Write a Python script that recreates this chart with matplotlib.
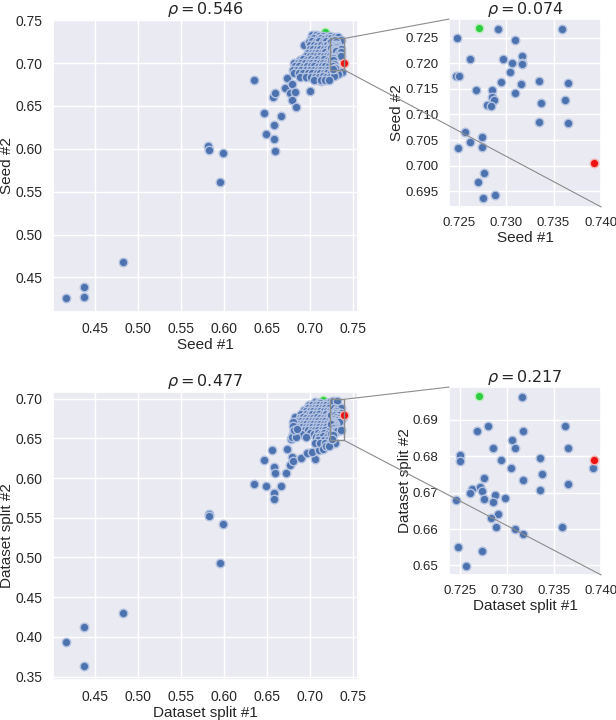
import numpy as np
import matplotlib
matplotlib.use("Agg")
import matplotlib.pyplot as plt
import seaborn as sns
from matplotlib.patches import Rectangle, ConnectionPatch
from matplotlib.ticker import MultipleLocator

sns.set_theme(style="darkgrid")
plt.rcParams['font.family'] = ['Liberation Sans', 'DejaVu Sans']

# --- Seed #1 vs Seed #2 -------------------------------------------------
# points outside the dense cluster
seed1_out = [0.4161, 0.4375, 0.4375, 0.4823, 0.5815, 0.5823, 0.5990, 0.5959,
             0.6348, 0.6465, 0.6484, 0.6582, 0.6582, 0.6589, 0.6660, 0.6570,
             0.6593, 0.6706, 0.6737, 0.6796, 0.6768, 0.6823, 0.6796, 0.6835,
             0.7002, 0.7126, 0.6936, 0.7177]
seed2_out = [0.4256, 0.4392, 0.4275, 0.4679, 0.6031, 0.5985, 0.5946, 0.5616,
             0.6805, 0.6412, 0.6171, 0.6276, 0.6109, 0.5973, 0.6377, 0.6606,
             0.6653, 0.6711, 0.6828, 0.6758, 0.6649, 0.6665, 0.6568, 0.6490,
             0.6676, 0.6789, 0.7205, 0.7364]
# dense cluster (outside the zoom box)
seed1_blob = [0.7030, 0.7070, 0.7110, 0.7150, 0.7205, 0.7235,
              0.7010, 0.7050, 0.7090, 0.7130, 0.7170, 0.7210, 0.7250, 0.7290, 0.7330,
              0.6985, 0.7030, 0.7070, 0.7110, 0.7150, 0.7190, 0.7230,
              0.7000, 0.7045, 0.7085, 0.7125, 0.7165, 0.7205, 0.7240,
              0.7000, 0.7040, 0.7080, 0.7120, 0.7160, 0.7200, 0.7235,
              0.6980, 0.7020, 0.7060, 0.7100, 0.7140, 0.7180, 0.7220,
              0.6960, 0.7000, 0.7040, 0.7080, 0.7120, 0.7160, 0.7200, 0.7238,
              0.6880, 0.6920, 0.6965, 0.7010, 0.7050, 0.7090, 0.7130, 0.7170, 0.7210,
              0.6820, 0.6860, 0.6900, 0.6945, 0.6990, 0.7030, 0.7075, 0.7115, 0.7155, 0.7195, 0.7235,
              0.6830, 0.6875, 0.6920, 0.6965, 0.7010, 0.7050, 0.7095, 0.7140, 0.7180, 0.7220,
              0.6800, 0.6850, 0.6900, 0.6950, 0.7000, 0.7045, 0.7090, 0.7135, 0.7175, 0.7215,
              0.7260, 0.7300, 0.7340, 0.7375,
              0.6810, 0.6870, 0.6920, 0.6980, 0.7030, 0.7080, 0.7120, 0.7160, 0.7200, 0.7250,
              0.7290, 0.7330,
              0.6880, 0.6950, 0.7010, 0.7060, 0.7110, 0.7150, 0.7190, 0.7240, 0.7280,
              0.7050, 0.7130, 0.7180, 0.7225]
seed2_blob = [0.7322, 0.7326, 0.7320, 0.7312, 0.7308, 0.7316,
              0.7285, 0.7288, 0.7284, 0.7290, 0.7280, 0.7286, 0.7295, 0.7300, 0.7298,
              0.7250, 0.7252, 0.7248, 0.7255, 0.7250, 0.7252, 0.7248,
              0.7205, 0.7208, 0.7202, 0.7206, 0.7204, 0.7208, 0.7203,
              0.7160, 0.7163, 0.7158, 0.7162, 0.7160, 0.7164, 0.7158,
              0.7120, 0.7122, 0.7118, 0.7121, 0.7120, 0.7123, 0.7119,
              0.7080, 0.7082, 0.7078, 0.7081, 0.7080, 0.7083, 0.7079, 0.7081,
              0.7040, 0.7042, 0.7038, 0.7041, 0.7040, 0.7043, 0.7039, 0.7041, 0.7040,
              0.7000, 0.7002, 0.6998, 0.7001, 0.7000, 0.7003, 0.6999, 0.7001, 0.7000, 0.7002, 0.6998,
              0.6960, 0.6962, 0.6958, 0.6961, 0.6960, 0.6963, 0.6959, 0.6961, 0.6960, 0.6962,
              0.6920, 0.6922, 0.6918, 0.6921, 0.6920, 0.6923, 0.6919, 0.6921, 0.6920, 0.6922,
              0.6905, 0.6900, 0.6910, 0.6895,
              0.6880, 0.6882, 0.6878, 0.6881, 0.6880, 0.6883, 0.6879, 0.6881, 0.6880, 0.6878,
              0.6860, 0.6870,
              0.6840, 0.6842, 0.6838, 0.6841, 0.6840, 0.6843, 0.6839, 0.6841, 0.6845,
              0.6800, 0.6805, 0.6798, 0.6802]
# points inside the zoom box
seed1_zoom = [0.7271, 0.7291, 0.7359, 0.7248, 0.7309, 0.7262, 0.7297, 0.7317,
              0.7306, 0.7317, 0.7317, 0.7304, 0.7247, 0.7250, 0.7294, 0.7316,
              0.7335, 0.7365, 0.7268, 0.7285, 0.7285, 0.7287, 0.7280, 0.7284,
              0.7309, 0.7337, 0.7362, 0.7335, 0.7365, 0.7257, 0.7262, 0.7274,
              0.7249, 0.7274, 0.7393, 0.7277, 0.7270, 0.7288, 0.7275]
seed2_zoom = [0.72695, 0.7266, 0.7267, 0.7250, 0.7245, 0.7209, 0.7208, 0.7214,
              0.7201, 0.7201, 0.7198, 0.7183, 0.7175, 0.7175, 0.7163, 0.7160,
              0.7166, 0.7162, 0.7148, 0.7148, 0.7135, 0.7129, 0.7118, 0.7117,
              0.7142, 0.7122, 0.7128, 0.7085, 0.7084, 0.7065, 0.7047, 0.7056,
              0.7035, 0.7036, 0.7005, 0.6986, 0.6968, 0.6943, 0.6936]

# --- Dataset split #1 vs Dataset split #2 -------------------------------
split1_out = [0.4161, 0.4375, 0.4375, 0.4823, 0.5823, 0.5823, 0.5990, 0.5959,
              0.6348, 0.6465, 0.6485, 0.6562, 0.6582, 0.6594, 0.6582, 0.6582,
              0.6660, 0.6718, 0.6768, 0.6737, 0.6796, 0.6804, 0.6901, 0.7057,
              0.6971, 0.7030, 0.7107, 0.6827, 0.6932, 0.6777, 0.7158]
split2_out = [0.3941, 0.4129, 0.3634, 0.4297, 0.5546, 0.5521, 0.5420, 0.4925,
              0.5919, 0.6224, 0.5897, 0.6350, 0.6140, 0.6065, 0.5806, 0.5734,
              0.5897, 0.6065, 0.6161, 0.6359, 0.6266, 0.6216, 0.6253, 0.6233,
              0.6309, 0.6329, 0.6350, 0.6769, 0.6862, 0.6497, 0.6987]
split1_blob = [0.7060, 0.7100, 0.7120, 0.7200, 0.7230,
               0.6990, 0.7030, 0.7070, 0.7110, 0.7150, 0.7190, 0.7230,
               0.6980, 0.7020, 0.7060, 0.7100, 0.7140, 0.7180, 0.7220,
               0.6960, 0.7000, 0.7040, 0.7080, 0.7120, 0.7160, 0.7200, 0.7240,
               0.6900, 0.6950, 0.6990, 0.7030, 0.7070, 0.7110, 0.7150, 0.7190, 0.7230,
               0.6880, 0.6920, 0.6960, 0.7000, 0.7040, 0.7080, 0.7120, 0.7160, 0.7200, 0.7240,
               0.6860, 0.6900, 0.6940, 0.6980, 0.7020, 0.7060, 0.7100, 0.7140, 0.7180, 0.7220,
               0.6840, 0.6880, 0.6920, 0.6960, 0.7000, 0.7040, 0.7080, 0.7120, 0.7160, 0.7200, 0.7240,
               0.6830, 0.6870, 0.6910, 0.6950, 0.6990, 0.7030, 0.7070, 0.7110, 0.7150, 0.7190, 0.7230,
               0.6820, 0.6860, 0.6900, 0.6940, 0.6980, 0.7020, 0.7060, 0.7100, 0.7140, 0.7180, 0.7220,
               0.6800, 0.6850, 0.6900, 0.7000, 0.7050, 0.7090, 0.7130, 0.7170, 0.7210,
               0.6790, 0.6840, 0.6960, 0.7070, 0.7110, 0.7150, 0.7200,
               0.7100, 0.7160, 0.7210, 0.7260,
               0.7060, 0.7120, 0.7180, 0.7230, 0.7290,
               0.7150, 0.7190, 0.7220,
               0.6800, 0.6805, 0.6810, 0.6850]
split2_blob = [0.6955, 0.6950, 0.6940, 0.6945, 0.6953,
               0.6920, 0.6922, 0.6918, 0.6921, 0.6915, 0.6918, 0.6919,
               0.6880, 0.6882, 0.6878, 0.6881, 0.6880, 0.6883, 0.6879,
               0.6840, 0.6842, 0.6838, 0.6841, 0.6840, 0.6843, 0.6839, 0.6841,
               0.6800, 0.6802, 0.6798, 0.6801, 0.6800, 0.6803, 0.6799, 0.6801, 0.6800,
               0.6760, 0.6762, 0.6758, 0.6761, 0.6760, 0.6763, 0.6759, 0.6761, 0.6760, 0.6762,
               0.6720, 0.6722, 0.6718, 0.6721, 0.6720, 0.6723, 0.6719, 0.6721, 0.6720, 0.6722,
               0.6680, 0.6682, 0.6678, 0.6681, 0.6680, 0.6683, 0.6679, 0.6681, 0.6680, 0.6682, 0.6678,
               0.6640, 0.6642, 0.6638, 0.6641, 0.6640, 0.6643, 0.6639, 0.6641, 0.6640, 0.6642, 0.6638,
               0.6600, 0.6602, 0.6598, 0.6601, 0.6600, 0.6603, 0.6599, 0.6601, 0.6600, 0.6602, 0.6598,
               0.6560, 0.6562, 0.6558, 0.6561, 0.6560, 0.6563, 0.6559, 0.6561, 0.6560,
               0.6520, 0.6522, 0.6518, 0.6521, 0.6520, 0.6523, 0.6519,
               0.6480, 0.6482, 0.6478, 0.6470,
               0.6440, 0.6442, 0.6438, 0.6441, 0.6445,
               0.6370, 0.6400, 0.6405,
               0.6710, 0.6650, 0.6600, 0.6620]
split1_zoom = [0.7270, 0.7316, 0.7268, 0.7280, 0.7317, 0.7362, 0.7306, 0.7309,
               0.7285, 0.7365, 0.7250, 0.7250, 0.7294, 0.7335, 0.7393, 0.7392,
               0.7304, 0.7337, 0.7276, 0.7317, 0.7365, 0.7263, 0.7261, 0.7271,
               0.7274, 0.7335, 0.7287, 0.7298, 0.7276, 0.7285, 0.7246, 0.7291,
               0.7283, 0.7288, 0.7309, 0.7317, 0.7359, 0.7248, 0.7274, 0.7257]
split2_zoom = [0.6967, 0.6964, 0.6871, 0.6884, 0.6871, 0.6884, 0.6845, 0.6824,
               0.6822, 0.6822, 0.6804, 0.6787, 0.6791, 0.6796, 0.6789, 0.6768,
               0.6769, 0.6752, 0.6739, 0.6735, 0.6724, 0.6711, 0.6700, 0.6716,
               0.6704, 0.6706, 0.6693, 0.6684, 0.6682, 0.6673, 0.6681, 0.6642,
               0.6629, 0.6605, 0.6600, 0.6586, 0.6606, 0.6550, 0.6540, 0.6497]

BLUE = '#4c72b0'
LABEL_FS = 11


def scatter_panel(ax, x, y):
    x = np.asarray(x)
    y = np.asarray(y)
    ib = np.argmax(y)   # best on the y run
    ir = np.argmax(x)   # best on the x run
    rest = np.ones(len(x), dtype=bool)
    rest[[ib, ir]] = False
    ax.scatter(x[ib], y[ib], s=38, color='#2ecc40', edgecolors='#b8f0b8', linewidths=1, zorder=2)
    ax.scatter(x[rest], y[rest], s=38, color=BLUE, edgecolors='#b3c2e0', linewidths=1, zorder=3)
    ax.scatter(x[ir], y[ir], s=38, color='#ee1111', edgecolors='#f5b0b0', linewidths=1, zorder=4)


def style_axes(ax, xlab, ylab, tick_fs):
    ax.set_xlabel(xlab, fontsize=LABEL_FS, labelpad=1)
    ax.set_ylabel(ylab, fontsize=LABEL_FS, labelpad=1)
    ax.tick_params(labelsize=tick_fs, pad=1.5)


fig = plt.figure(figsize=(6.16, 7.2), dpi=100)

rows = [
    dict(pos_main=[0.086, 0.567, 0.495, 0.406], pos_zoom=[0.729, 0.7125, 0.247, 0.261],
         xs=seed1_out + seed1_blob + seed1_zoom, ys=seed2_out + seed2_blob + seed2_zoom,
         x_zoom=seed1_zoom, y_zoom=seed2_zoom, xlab='Seed #1', ylab='Seed #2',
         lims=[(0.4008, 0.756), (0.410, 0.7508)], ystep=0.005, rho=(0.546, 0.074)),
    dict(pos_main=[0.086, 0.0556, 0.495, 0.400], pos_zoom=[0.729, 0.2014, 0.247, 0.261],
         xs=split1_out + split1_blob + split1_zoom, ys=split2_out + split2_blob + split2_zoom,
         x_zoom=split1_zoom, y_zoom=split2_zoom, xlab='Dataset split #1', ylab='Dataset split #2',
         lims=[(0.4008, 0.756), (0.3458, 0.7083)], ystep=0.01, rho=(0.477, 0.217)),
]

for r in rows:
    ax = fig.add_axes(r['pos_main'])
    scatter_panel(ax, r['xs'], r['ys'])
    ax.set_xlim(r['lims'][0])
    ax.set_ylim(r['lims'][1])
    ax.xaxis.set_major_locator(MultipleLocator(0.05))
    ax.yaxis.set_major_locator(MultipleLocator(0.05))
    style_axes(ax, r['xlab'], r['ylab'], 10)
    ax.set_title(r'$\rho = %.3f$' % r['rho'][0], fontsize=11.5, pad=4)

    axz = fig.add_axes(r['pos_zoom'])
    scatter_panel(axz, r['x_zoom'], r['y_zoom'])
    axz.xaxis.set_major_locator(MultipleLocator(0.005))
    axz.yaxis.set_major_locator(MultipleLocator(r['ystep']))
    style_axes(axz, r['xlab'], r['ylab'], 9.5)
    axz.set_title(r'$\rho = %.3f$' % r['rho'][1], fontsize=11.5, pad=4)

    # zoom box on the main panel and the two connector lines
    x0, x1 = axz.get_xlim()
    y0, y1 = axz.get_ylim()
    ax.add_patch(Rectangle((x0, y0), x1 - x0, y1 - y0, fill=False,
                           edgecolor='0.55', linewidth=1, zorder=5))
    for xyA, xyB in [((x1, y1), (0, 1)), ((x1, y0), (1, 0))]:
        con = ConnectionPatch(xyA=xyA, coordsA=ax.transData, xyB=xyB, coordsB=axz.transAxes,
                              color='0.55', linewidth=0.8, zorder=6)
        fig.add_artist(con)

fig.savefig('out.png', dpi=100)
